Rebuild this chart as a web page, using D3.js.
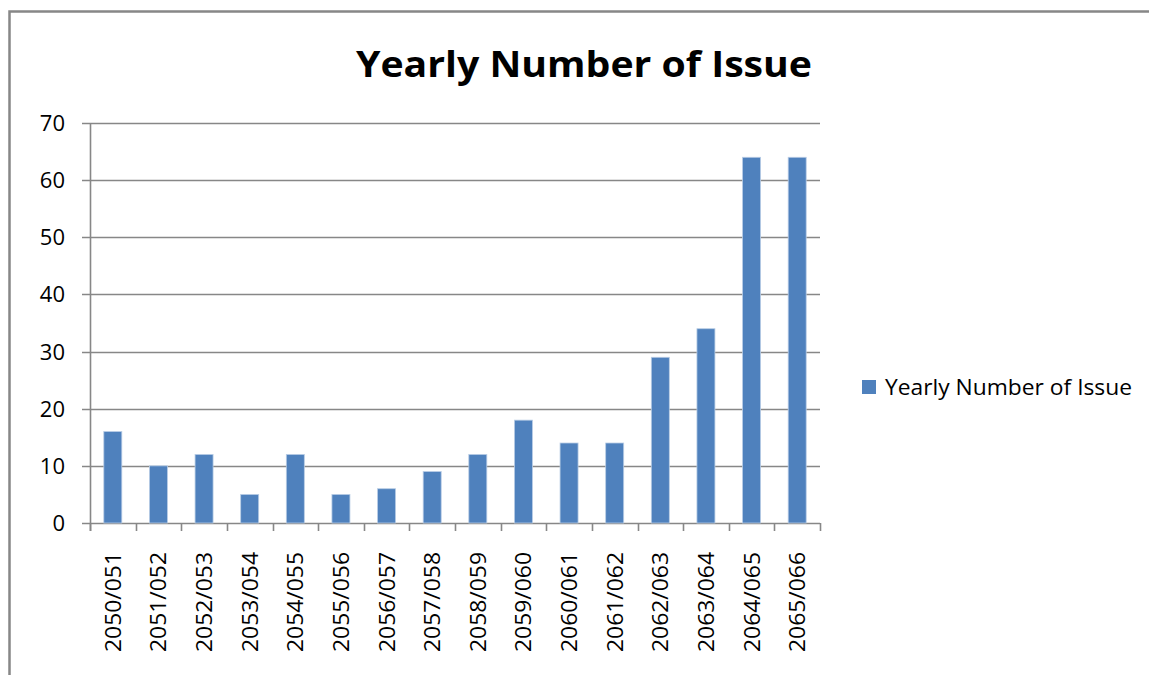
<!DOCTYPE html>
<html>
<head>
<meta charset="utf-8">
<script src="https://cdn.jsdelivr.net/npm/d3@7"></script>
<style>
  html, body { margin: 0; padding: 0; background: #fff; }
  svg { display: block; }
  text { font-family: "Open Sans", "Noto Sans", sans-serif; fill: #000; }
</style>
</head>
<body>
<svg id="chart" width="1149" height="675"></svg>
<script>
// Fiscal-year categories and issue counts
const years = ["2050/051","2051/052","2052/053","2053/054","2054/055","2055/056","2056/057","2057/058",
               "2058/059","2059/060","2060/061","2061/062","2062/063","2063/064","2064/065","2065/066"];
const issues = [16, 10, 12, 5, 12, 5, 6, 9, 12, 18, 14, 14, 29, 34, 64, 64];
const yTicks = [0, 10, 20, 30, 40, 50, 60, 70];
const titleText = "Yearly Number of Issue";
const seriesName = "Yearly Number of Issue";

const svg = d3.select("#chart");
const W = 1149, H = 675;
const plot = { left: 90, right: 820, top: 123, bottom: 523 };

// Outer chart border (runs off the right and bottom edges)
svg.append("rect")
  .attr("x", 9.5).attr("y", 11.5)
  .attr("width", W + 20).attr("height", H + 20)
  .attr("fill", "none").attr("stroke", "#878787").attr("stroke-width", 2.5);

// Title
svg.append("text")
  .attr("x", 584).attr("y", 77)
  .attr("text-anchor", "middle")
  .attr("font-size", 36).attr("font-weight", 700)
  .attr("textLength", 456).attr("lengthAdjust", "spacingAndGlyphs")
  .text(titleText);

const x = d3.scaleBand().domain(years).range([plot.left, plot.right]).paddingInner(0).paddingOuter(0);
const y = d3.scaleLinear().domain([0, 70]).range([plot.bottom, plot.top]);

// Horizontal gridlines with short ticks to the left
const grid = svg.append("g");
grid.selectAll("line").data(yTicks).join("line")
  .attr("x1", plot.left - 8).attr("x2", plot.right)
  .attr("y1", d => Math.round(y(d)) + 0.5).attr("y2", d => Math.round(y(d)) + 0.5)
  .attr("stroke", "#878787").attr("stroke-width", 1.6);

// Y axis labels
svg.append("g").selectAll("text").data(yTicks).join("text")
  .attr("x", 65).attr("y", d => y(d) + 8)
  .attr("text-anchor", "end")
  .attr("font-size", 22)
  .text(d => d);

// Bars
const bw = 18;
svg.append("g").selectAll("rect").data(issues).join("rect")
  .attr("x", (d, i) => x(years[i]) + x.bandwidth() / 2 - bw / 2)
  .attr("y", d => y(d))
  .attr("width", bw)
  .attr("height", d => y(0) - y(d))
  .attr("fill", "#4F81BD")
  .attr("stroke", "#b9cde5").attr("stroke-width", 0.8);

// Vertical axis line
svg.append("line")
  .attr("x1", plot.left + 0.5).attr("x2", plot.left + 0.5)
  .attr("y1", plot.top).attr("y2", plot.bottom + 8)
  .attr("stroke", "#878787").attr("stroke-width", 1.6);

// Category tick marks on the baseline
const boundaries = years.map(d => x(d)).concat([plot.right]);
svg.append("g").selectAll("line").data(boundaries).join("line")
  .attr("x1", d => Math.round(d) + 0.5).attr("x2", d => Math.round(d) + 0.5)
  .attr("y1", plot.bottom).attr("y2", plot.bottom + 8)
  .attr("stroke", "#878787").attr("stroke-width", 1.6);

// Rotated category labels
svg.append("g").selectAll("text").data(years).join("text")
  .attr("transform", d => `translate(${x(d) + x.bandwidth() / 2 + 8},552) rotate(-90)`)
  .attr("text-anchor", "end")
  .attr("font-size", 22)
  .attr("textLength", 100).attr("lengthAdjust", "spacingAndGlyphs")
  .text(d => d);

// Legend
svg.append("rect")
  .attr("x", 862).attr("y", 380).attr("width", 14).attr("height", 14)
  .attr("fill", "#4F81BD");
svg.append("text")
  .attr("x", 885).attr("y", 395)
  .attr("font-size", 22)
  .attr("textLength", 247).attr("lengthAdjust", "spacingAndGlyphs")
  .text(seriesName);
</script>
</body>
</html>
